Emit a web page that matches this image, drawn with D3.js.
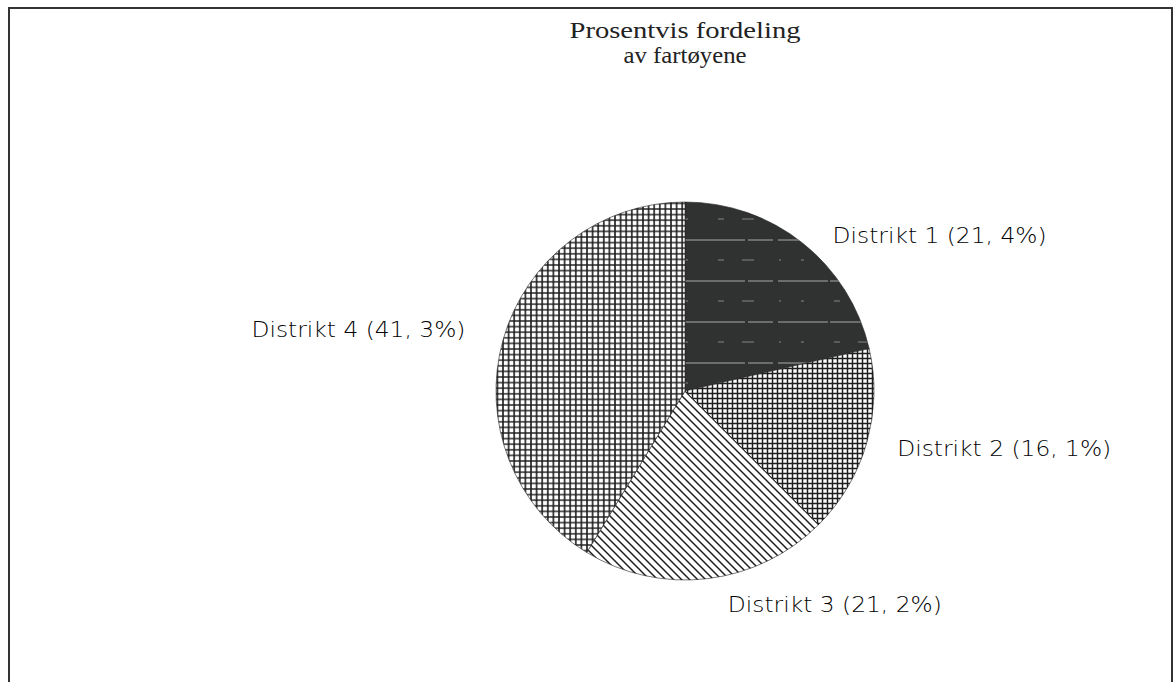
<!DOCTYPE html>
<html>
<head>
<meta charset="utf-8">
<script src="https://cdn.jsdelivr.net/npm/d3@7/dist/d3.min.js"></script>
<style>
html,body{margin:0;padding:0;background:#fff;}
svg{display:block;}
</style>
</head>
<body>
<svg id="chart" width="1174" height="682"></svg>
<script>
// ---- data ----
const titleLines = ["Prosentvis fordeling", "av fartøyene"];
const districts = ["Distrikt 1", "Distrikt 2", "Distrikt 3", "Distrikt 4"];
const percents = [21.4, 16.1, 21.2, 41.3];
const percentLabels = ["21, 4%", "16, 1%", "21, 2%", "41, 3%"];

// ---- layout ----
const W = 1174, H = 682;
const cx = 685, cy = 391, R = 189;
const labelR = 200;
const labelOffsets = [[23, 8], [20, 10], [19, 22], [-27, 0]];
const fills = ["url(#p1)", "url(#p2)", "url(#p3)", "url(#p4)"];

const svg = d3.select("#chart");
const defs = svg.append("defs");

// pattern 1: dark with faint light dashes
const p1 = defs.append("pattern").attr("id", "p1").attr("patternUnits", "userSpaceOnUse")
  .attr("width", 230).attr("height", 41).attr("y", 3);
p1.append("rect").attr("width", 230).attr("height", 41).attr("fill", "#303131");
p1.append("line").attr("x1", 0).attr("x2", 230).attr("y1", 10).attr("y2", 10)
  .attr("stroke", "#cfcfcf").attr("stroke-width", 1).attr("stroke-dasharray", "60 3 25 5 50 2 40 6")
  .attr("opacity", 0.75);
p1.append("line").attr("x1", 0).attr("x2", 230).attr("y1", 30).attr("y2", 30)
  .attr("stroke", "#bbbbbb").attr("stroke-width", 1).attr("stroke-dasharray", "3 30 6 18 12 25 2 20")
  .attr("opacity", 0.6);

// grids
function grid(id, s, sw) {
  const p = defs.append("pattern").attr("id", id).attr("patternUnits", "userSpaceOnUse")
    .attr("width", s).attr("height", s);
  p.append("rect").attr("width", s).attr("height", s).attr("fill", "#fff");
  p.append("path").attr("d", `M0,${s/2}H${s}M${s/2},0V${s}`)
    .attr("stroke", "#1e1e1e").attr("stroke-width", sw).attr("fill", "none");
}
grid("p2", 5, 1.5);
grid("p4", 5.6, 1.6);

// pattern 3: diagonal lines
const s3 = 8;
const p3 = defs.append("pattern").attr("id", "p3").attr("patternUnits", "userSpaceOnUse")
  .attr("width", s3).attr("height", s3);
p3.append("rect").attr("width", s3).attr("height", s3).attr("fill", "#fff");
p3.append("path").attr("d", `M0,0L${s3},${s3}M${-s3/2},${s3/2}L${s3/2},${s3*1.5}M${s3/2},${-s3/2}L${s3*1.5},${s3/2}`)
  .attr("stroke", "#1e1e1e").attr("stroke-width", 1.5).attr("fill", "none");

// frame
svg.append("path")
  .attr("d", `M9,${H + 5}V8H1172V${H + 5}`)
  .attr("fill", "none").attr("stroke", "#333").attr("stroke-width", 2);

// title
svg.append("g").selectAll("text").data(titleLines).join("text")
  .attr("x", cx)
  .attr("y", (d, i) => 38 + i * 25)
  .attr("text-anchor", "middle")
  .attr("font-family", "Liberation Serif, serif")
  .attr("font-size", 23)
  .attr("fill", "#222")
  .attr("textLength", (d, i) => i === 0 ? 231 : 123)
  .attr("lengthAdjust", "spacingAndGlyphs")
  .text(d => d);

// pie
const pie = d3.pie().sort(null).value(d => d)(percents);
const arc = d3.arc().innerRadius(0).outerRadius(R);
const g = svg.append("g").attr("transform", `translate(${cx},${cy})`);
g.selectAll("path").data(pie).join("path")
  .attr("d", arc)
  .attr("fill", (d, i) => fills[i])
  .attr("stroke", "#222")
  .attr("stroke-width", 0.6);

// labels
g.selectAll("text.lbl").data(pie).join("text")
  .attr("class", "lbl")
  .each(function (d, i) {
    const a = (d.startAngle + d.endAngle) / 2;
    const x = labelR * Math.sin(a) + labelOffsets[i][0];
    const y = -labelR * Math.cos(a) + labelOffsets[i][1];
    d3.select(this).attr("x", x).attr("y", y)
      .attr("text-anchor", Math.sin(a) >= 0 ? "start" : "end");
  })
  .attr("font-family", "DejaVu Sans, sans-serif")
  .attr("font-weight", 300)
  .attr("font-size", 21)
  .attr("fill", "#000")
  .attr("textLength", 214)
  .attr("lengthAdjust", "spacingAndGlyphs")
  .text((d, i) => `${districts[i]} (${percentLabels[i]})`);
</script>
</body>
</html>
